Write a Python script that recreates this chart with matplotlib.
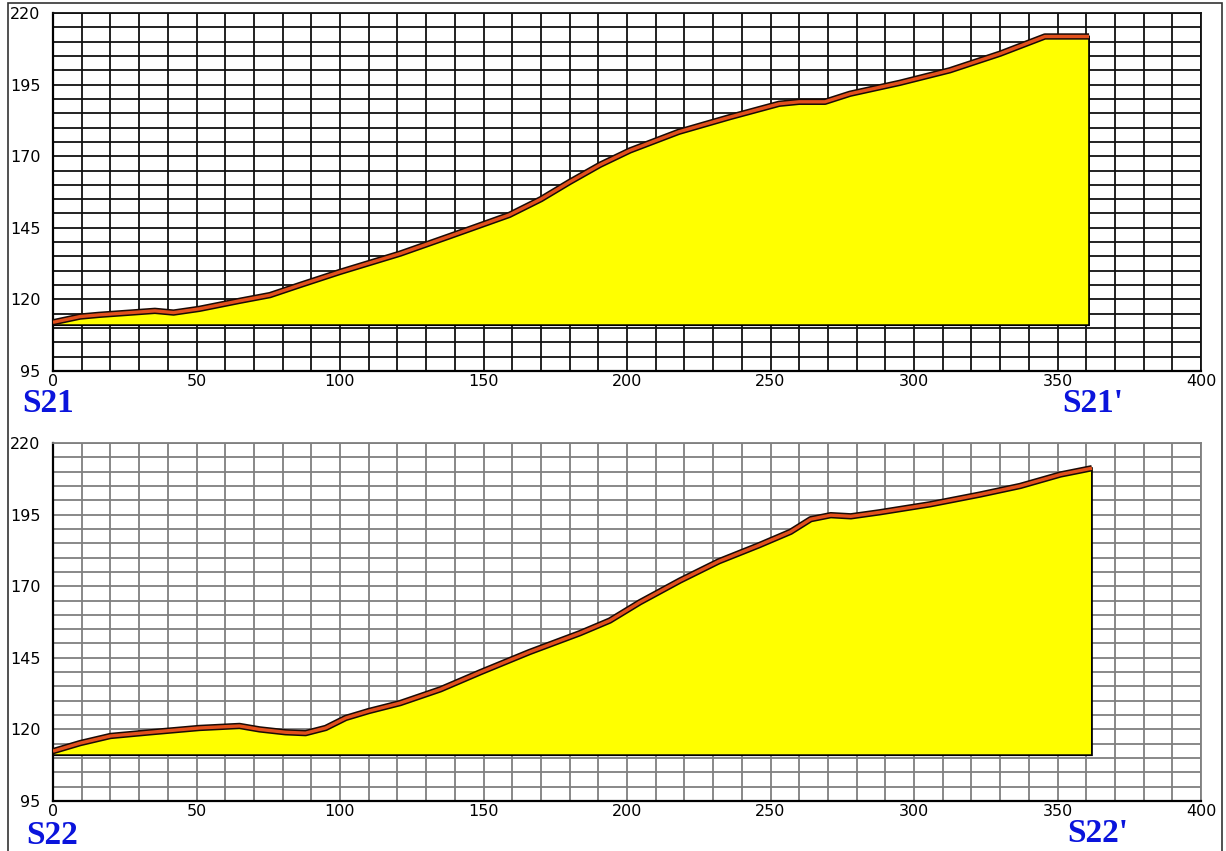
import matplotlib
matplotlib.use("Agg")
import matplotlib.pyplot as plt
from matplotlib.patches import Rectangle, Polygon
import numpy as np

# ---- data ----
top_dist = [0, 9.4, 16, 35.5, 42, 51, 65, 75.6, 86, 100, 121, 138, 159, 170, 180,
            190.6, 201, 218, 236, 253, 260, 269, 277.7, 295, 312.5, 330, 345.6, 361]
top_elev = [112, 114, 114.6, 116, 115.4, 116.7, 119.5, 121.5, 125, 129.6, 136, 142,
            149.5, 155, 161, 167, 172, 178.5, 183.7, 188.3, 189, 189, 191.8, 195.6,
            200, 205.8, 211.8, 211.8]

bot_dist = [0, 9.4, 20, 34, 51, 65, 72, 81, 88, 95, 102, 110, 121, 135, 149, 166,
            183.6, 194, 204.5, 218.5, 232, 246, 257, 264, 271, 278, 288, 305.6, 323,
            337, 351, 362]
bot_elev = [112.4, 115.2, 117.7, 119, 120.5, 121.2, 120, 119, 118.7, 120.5, 124,
            126.4, 129.2, 134, 140, 147, 153.6, 158, 164.4, 172, 178.7, 184.3, 189,
            193.4, 194.8, 194.4, 195.8, 198.6, 202, 205, 209, 211.2]

base_elev = 111
x_ticks = [0, 50, 100, 150, 200, 250, 300, 350, 400]
y_ticks = [95, 120, 145, 170, 195, 220]
labels_top = ["S21", "S21'"]
labels_bot = ["S22", "S22'"]

fig = plt.figure(figsize=(12.26, 8.51), dpi=100)
fig.patch.set_facecolor("white")

def panel(rect, dist, elev, gridcolor):
    ax = fig.add_axes(rect)
    ax.set_xlim(0, 400)
    ax.set_ylim(95, 220)
    ax.set_xticks(x_ticks)
    ax.set_yticks(y_ticks)
    ax.set_xticks(np.arange(0, 401, 10), minor=True)
    ax.set_yticks(np.arange(95, 221, 5), minor=True)
    ax.grid(True, which="both", color=gridcolor, lw=1.3, zorder=0)
    ax.set_axisbelow(True)
    ax.tick_params(which="both", length=0, labelsize=11.5)
    ax.tick_params(axis="x", pad=2)
    ax.tick_params(axis="y", pad=9)
    for s in ["top", "right"]:
        ax.spines[s].set_color(gridcolor)
        ax.spines[s].set_linewidth(1.3)
    for s in ["left", "bottom"]:
        ax.spines[s].set_color("black")
        ax.spines[s].set_linewidth(1.6)
    poly = [(dist[0], base_elev)] + list(zip(dist, elev)) + [(dist[-1], base_elev)]
    ax.add_patch(Polygon(poly, closed=True, facecolor="#ffff00",
                         edgecolor="black", lw=1.3, zorder=2))
    ax.plot(dist, elev, color="#1a0a05", lw=4.6, solid_capstyle="butt",
            solid_joinstyle="round", zorder=3)
    ax.plot(dist, elev, color="#e2501c", lw=2.4, solid_capstyle="butt",
            solid_joinstyle="round", zorder=4)
    return ax

ax1 = panel([53/1226, 1 - 371/851, 1148/1226, 358/851], top_dist, top_elev, "#111111")
ax2 = panel([53/1226, 1 - 801/851, 1148/1226, 358/851], bot_dist, bot_elev, "#7f7f7f")

lab_kw = dict(color="#0a14dc", fontsize=24, fontweight="bold",
              family="Liberation Serif", va="center")
fig.text(22/1226, 1 - 404/851, labels_top[0], ha="left", **lab_kw)
fig.text(1062/1226, 1 - 404/851, labels_top[1], ha="left", **lab_kw)
fig.text(26/1226, 1 - 835/851, labels_bot[0], ha="left", **lab_kw)
fig.text(1067/1226, 1 - 833/851, labels_bot[1], ha="left", **lab_kw)

fig.patches.append(Rectangle((8/1226, -0.01), (1222-8)/1226, 1.01 - 3/851,
                             transform=fig.transFigure, fill=False,
                             edgecolor="#333333", lw=1.2))

fig.savefig("out.png", dpi=100)
